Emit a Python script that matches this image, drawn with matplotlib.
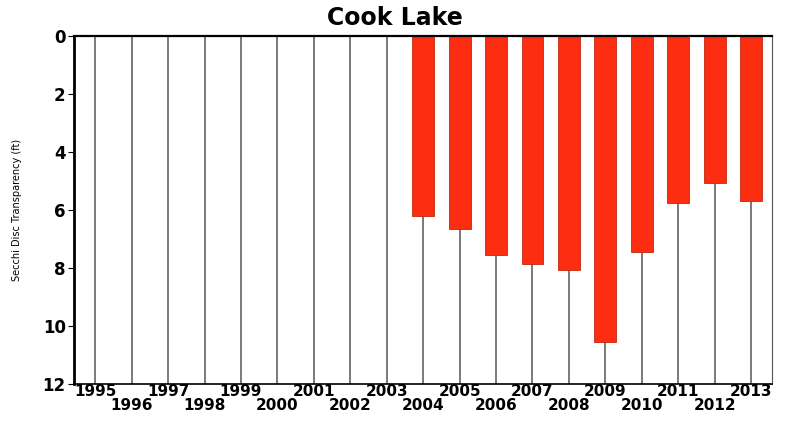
import numpy as np
import matplotlib.pyplot as plt

years = list(range(1995, 2014))
bar_years = [2004, 2005, 2006, 2007, 2008, 2009, 2010, 2011, 2012, 2013]
secchi_ft = [6.2, 6.65, 7.55, 7.85, 8.05, 10.55, 7.45, 5.75, 5.05, 5.7]
yticks = [0, 2, 4, 6, 8, 10, 12]

# odd years on the first row, even years dropped to a second row
odd_years = [y for y in years if y % 2]
even_years = [y for y in years if not y % 2]

fig = plt.figure(figsize=(7.88, 4.24), dpi=100)
ax = fig.add_axes([0.094, 0.094, 0.886, 0.821])

for y in years:
    ax.axvline(y, color="#6e6e6e", lw=1.3, zorder=1)

ax.bar(bar_years, secchi_ft, width=0.6, color="#fc2d10",
       edgecolor="#c0280f", linewidth=0.6, zorder=2)

ax.set_xlim(1995 - 0.58, 2013 + 0.58)
ax.set_ylim(12, 0)
ax.set_yticks(yticks)
ax.set_yticklabels([str(t) for t in yticks], fontsize=12, fontweight="bold")

ax.set_xticks(odd_years)
ax.set_xticklabels([str(y) for y in odd_years], fontsize=11, fontweight="bold")
ax.set_xticks(even_years, minor=True)
ax.set_xticklabels([str(y) for y in even_years], minor=True, fontsize=11,
                   fontweight="bold")
ax.tick_params(axis="x", which="major", length=0, pad=0)
ax.tick_params(axis="x", which="minor", length=0, pad=10)
ax.tick_params(axis="y", length=4, width=0.8, pad=2, direction="out")

ax.spines["left"].set_linewidth(2.0)
ax.spines["top"].set_linewidth(1.6)
ax.spines["bottom"].set_linewidth(1.2)
ax.spines["right"].set_linewidth(0.8)
ax.spines["right"].set_color("#555555")

ax.set_ylabel("Secchi Disc Transparency (ft)", fontsize=7)
ax.yaxis.set_label_coords(-0.075, 0.5)

fig.text(395 / 788, 1 - 18 / 424, "Cook Lake", fontsize=17,
         fontweight="bold", ha="center", va="center")

fig.savefig("out.png", dpi=100)
